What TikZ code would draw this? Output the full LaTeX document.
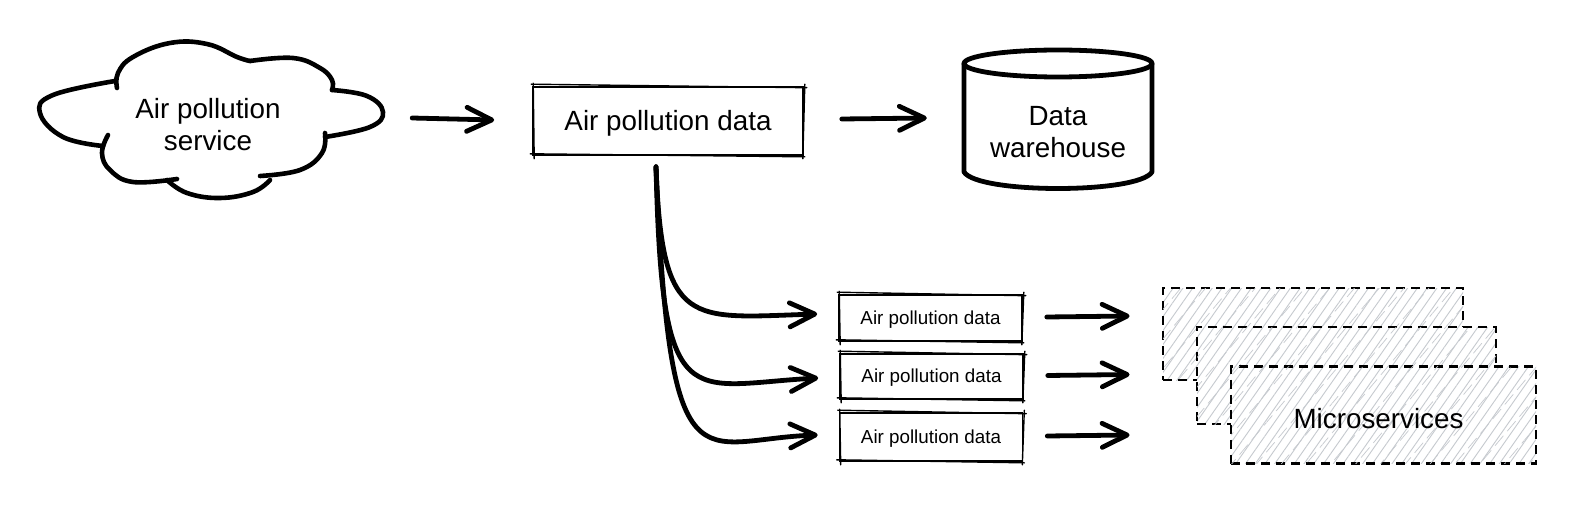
\documentclass[tikz,border=0pt]{standalone}
\usepackage{fontspec}
\setmainfont{Liberation Sans}
\usepackage{tikz}
\usetikzlibrary{calc}
\usetikzlibrary{arrows.meta}
\usetikzlibrary{patterns.meta}
\definecolor{hatchgray}{HTML}{C6CACF}

\tikzset{
  bigtext/.style={font=\fontsize{27.8}{32}\selectfont, align=center, inner sep=0pt},
  smalltext/.style={font=\fontsize{18.8}{22}\selectfont, inner sep=0pt, text depth=1pt},
  skline/.style={line width=4.6pt, line cap=round, line join=round},
  skarrow/.style={line width=4.8pt, line cap=round, -{Straight Barb[length=25pt,width=24pt,line width=4.8pt,round]}},
  skbox/.style={draw, line width=1.6pt},
  skextra/.style={line width=1.4pt, line cap=round},
  msbox/.style={draw, line width=2.2pt, dash pattern=on 9pt off 6pt, preaction={fill=white},
    pattern={Lines[angle=55,distance=8pt,line width=.9pt]}, pattern color=hatchgray,
    postaction={pattern={Lines[angle=50,distance=19pt,line width=.7pt]}, pattern color=hatchgray},
    bigtext}
}

% second pencil stroke round a box
\newcommand{\roughbox}[1]{
  \draw[skextra] ($(#1.north west)+(-1,-2)$) -- ($(#1.north east)+(3,1.5)$);
  \draw[skextra] ($(#1.north east)+(1,-2)$) -- ($(#1.south east)+(-1,3)$);
  \draw[skextra] ($(#1.south east)+(1,1)$) -- ($(#1.south west)+(-2,-2)$);
  \draw[skextra] ($(#1.south west)+(2,3)$) -- ($(#1.north west)+(1,-3)$);
}

\begin{document}
\begin{tikzpicture}[x=1pt, y=-1pt]
  \useasboundingbox (0,0) rectangle (1585,513);

  % Service cloud
  \draw[skline] plot[smooth, tension=.7] coordinates {(117,88) (118,73) (133,57) (170,43) (207,44) (237,57) (250,61)};
  \draw[skline] plot[smooth, tension=.7] coordinates {(250,61) (293,58) (320,68) (332,80) (332,90)};
  \draw[skline] plot[smooth, tension=.7] coordinates {(332,90) (367,96) (383,112) (370,127) (325,137)};
  \draw[skline] plot[smooth, tension=.7] coordinates {(325,133) (322,153) (300,170) (260,176)};
  \draw[skline] plot[smooth, tension=.7] coordinates {(270,180) (253,192) (220,198) (187,193) (167,180)};
  \draw[skline] plot[smooth, tension=.7] coordinates {(177,179) (133,182) (110,170) (102,153) (108,135)};
  \draw[skline] plot[smooth, tension=.7] coordinates {(103,146) (63,137) (40,113) (53,95) (115,81)};
  \node[bigtext, minimum width=350pt] (cloudsvc) at (208,124.5) {Air pollution\\service};

  % Main data box
  \node[bigtext, text depth=1pt, skbox, minimum width=270pt, minimum height=68pt] (rawbox) at (668,121) {Air pollution data};
  \roughbox{rawbox}

  % Warehouse
  \draw[skline, line width=4.8pt] (1058,63.5) ellipse (94 and 13.5);
  \draw[skline, line width=4.8pt] (964,64) -- (964,172) .. controls (978,194) and (1138,194) .. (1152,172) -- (1152,64);
  \node[bigtext, minimum width=188pt] (warehouse) at (1058,132) {Data\\warehouse};

  \draw[skarrow] ($(cloudsvc.east)+(29,-6.5)$) -- ($(rawbox.west)+(-38,-1)$);
  \draw[skarrow] ($(rawbox.east)+(38,-2)$) -- ($(warehouse.west)+(-37,-14)$);

  % Microservices
  \node[msbox, minimum width=300pt, minimum height=92pt] (msa) at (1313,334) {};
  \node[msbox, minimum width=299pt, minimum height=97pt] (msb) at (1346.5,375.5) {};
  \node[msbox, text height=26pt, text depth=0pt, minimum width=305pt, minimum height=97pt] (msc) at (1383.5,415) {Microservices\hspace{10pt}};

  % Small data boxes
  \coordinate (fork) at ($(rawbox.south)+(-12,11)$);
  \foreach \name/\x/\y/\hgt/\ctla/\ctlb/\off in {
      dataa/930.5/318/46/{662,330}/{690,318}/-4,
      datab/931.5/376.5/45/{662,420}/{688,385}/1.5,
      datac/931/437/48/{670,500}/{698,439}/-2} {
    \node[smalltext, skbox, minimum width=183pt, minimum height=\hgt pt] (\name) at (\x,\y) {Air pollution data};
    \roughbox{\name}
    \draw[skarrow] (fork) .. controls (\ctla) and (\ctlb) .. ($(\name.west)+(-21,\off)$);
    \draw[skarrow] ($(\name.east)+(24,-1)$) -- ($(\name.east -| msa.west)+(-33,-2)$);
  }
\end{tikzpicture}
\end{document}
